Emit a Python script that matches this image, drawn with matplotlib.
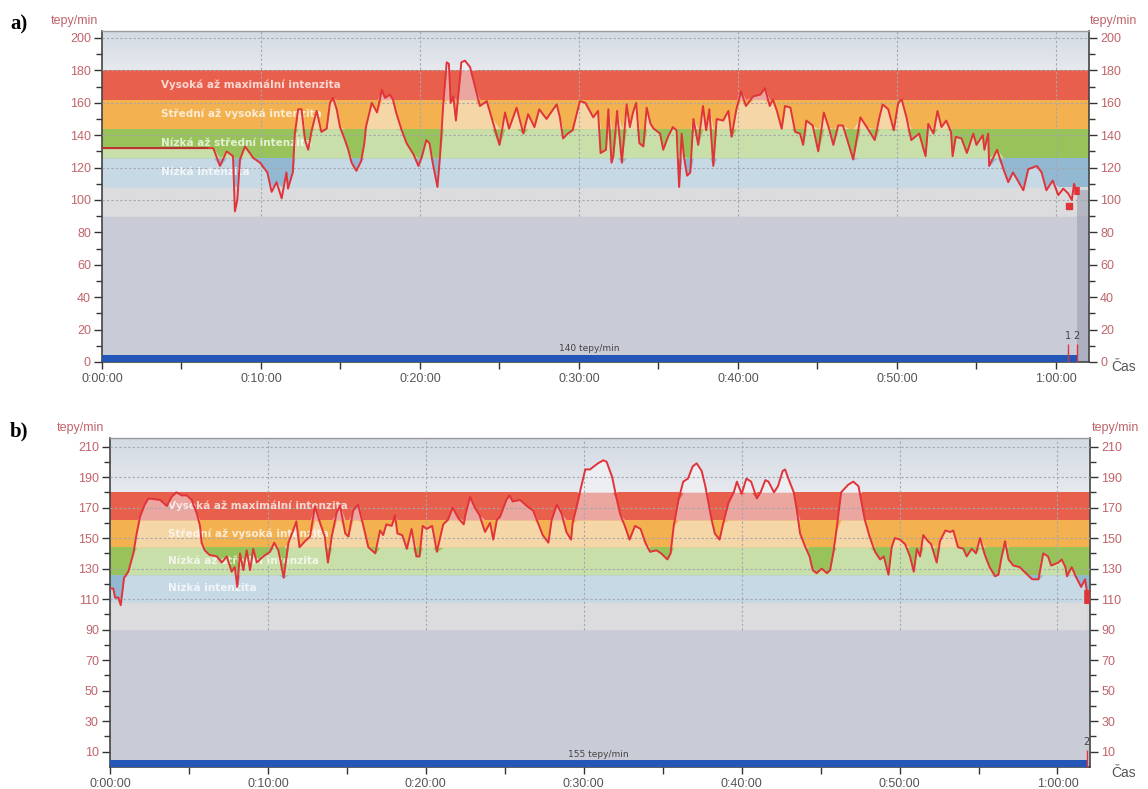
import numpy as np
import matplotlib.pyplot as plt
from matplotlib.ticker import MultipleLocator, FuncFormatter
from matplotlib.colors import LinearSegmentedColormap

W, H = 1148, 789

# Heart rate zones (bpm) and labels
zone_edges = [0, 90, 108, 126, 144, 162, 180]
zone_sat = ['#c9ccd6', '#d7d7d9', '#93b8d2', '#98c35a', '#f3b14f', '#e8604c']
zone_pale = ['#c9ccd6', '#dcdcde', '#c7d9e5', '#c9dfaa', '#f5d6a7', '#eca6a0']
zone_names = ['Nízká intenzita', 'Nízká až střední intenzita',
              'Střední až vysoká intenzita', 'Vysoká až maximální intenzita']

# Panel a) - flat pre-recording part and heart rate record (minutes, bpm)
a_flat_t = [0.0, 6.6]
a_flat_hr = [132, 132]
a_t = [6.6, 7.0, 7.42, 7.84, 8.24, 8.36, 8.51, 8.68, 8.99, 9.3, 9.5, 9.94, 10.4, 10.67,
       10.98, 11.3, 11.6, 11.7, 12.0, 12.13, 12.34, 12.55, 12.77, 12.97, 13.19, 13.5, 13.8,
       14.13, 14.34, 14.53, 14.76, 14.97, 15.28, 15.49, 15.7, 16.0, 16.3, 16.5, 16.6, 16.97,
       17.3, 17.6, 17.8, 18.1, 18.3, 18.5, 18.85, 19.16, 19.6, 19.9, 20.1, 20.4, 20.6, 20.8,
       21.1, 21.26, 21.47, 21.68, 21.82, 21.93, 22.1, 22.26, 22.4, 22.6, 22.83, 23.15, 23.46,
       23.77, 24.2, 24.5, 25.0, 25.35, 25.6, 26.08, 26.5, 26.8, 27.2, 27.5, 27.96, 28.38,
       28.6, 28.8, 29.0, 29.3, 29.6, 30.06, 30.4, 30.9, 31.2, 31.36, 31.7, 31.85, 32.05,
       32.16, 32.4, 32.7, 33.0, 33.2, 33.4, 33.6, 33.8, 34.05, 34.26, 34.5, 34.7, 35.1,
       35.3, 35.6, 35.9, 36.14, 36.3, 36.46, 36.6, 36.8, 37.0, 37.2, 37.5, 37.8, 38.0,
       38.2, 38.45, 38.66, 39.07, 39.4, 39.6, 39.9, 40.2, 40.5, 40.96, 41.4, 41.7, 42.0,
       42.2, 42.45, 42.75, 42.96, 43.3, 43.6, 43.9, 44.1, 44.3, 44.7, 45.05, 45.4, 45.7,
       46.0, 46.3, 46.6, 47.0, 47.25, 47.7, 48.1, 48.6, 48.9, 49.1, 49.45, 49.8, 50.08,
       50.3, 50.6, 50.9, 51.4, 51.8, 51.97, 52.3, 52.55, 52.8, 53.1, 53.4, 53.5, 53.7,
       54.06, 54.4, 54.8, 55.0, 55.4, 55.5, 55.74, 55.8, 56.3, 56.7, 57.0, 57.3, 57.6,
       57.95, 58.26, 58.8, 59.1, 59.4, 59.8, 60.15, 60.46, 60.77, 61.0, 61.14, 61.3]
a_hr = [135, 132, 121, 130, 127, 93, 100, 125, 133, 129, 126, 123, 117, 105,
        111, 101, 117, 107, 117, 141, 156, 156, 137, 131, 143, 155, 142,
        144, 160, 163, 156, 145, 137, 131, 123, 118, 124, 135, 145, 160,
        154, 168, 163, 165, 162, 154, 143, 135, 128, 121, 126, 137, 135, 123,
        108, 127, 160, 185, 184, 160, 164, 149, 164, 185, 186, 182, 170,
        158, 161, 151, 134, 154, 144, 157, 141, 153, 145, 156, 150, 156,
        159, 151, 138, 141, 143, 161, 160, 151, 155, 129, 131, 156, 123,
        127, 155, 123, 159, 145, 154, 160, 135, 133, 157, 147, 144, 141,
        131, 139, 145, 143, 108, 141, 127, 115, 117, 150, 134, 158, 143,
        156, 121, 150, 149, 155, 139, 156, 167, 158, 164, 165, 169, 158,
        162, 155, 144, 158, 157, 142, 141, 134, 149, 146, 130, 154, 145,
        134, 146, 146, 133, 125, 151, 145, 137, 151, 159, 156, 143, 160,
        162, 151, 137, 141, 127, 147, 141, 155, 145, 149, 142, 127, 139,
        138, 129, 141, 134, 140, 131, 141, 121, 131, 119, 111, 117, 112,
        106, 119, 121, 117, 106, 112, 103, 107, 104, 100, 110, 105]
a_avg = 140
a_end = 61.3
a_laps = [60.75, 61.3]
a_lap_names = ['1', '2']

# Panel b)
b_t = [0.04, 0.21, 0.32, 0.53, 0.68, 0.8, 0.89, 1.16, 1.48, 1.69, 1.9, 2.2, 2.43, 3.17,
       3.6, 3.9, 4.2, 4.54, 4.86, 5.17, 5.5, 5.7, 5.8, 6.0, 6.3, 6.76, 7.07, 7.4, 7.7,
       7.9, 8.06, 8.23, 8.44, 8.66, 8.87, 9.07, 9.3, 9.7, 10.13, 10.4, 10.66, 11.0, 11.3,
       11.6, 11.8, 12.0, 12.35, 12.67, 12.98, 13.3, 13.6, 13.8, 14.04, 14.36, 14.57, 14.9,
       15.1, 15.4, 15.7, 16.0, 16.36, 16.8, 17.1, 17.3, 17.5, 17.84, 18.05, 18.2, 18.5,
       18.8, 19.1, 19.4, 19.6, 19.8, 20.05, 20.4, 20.7, 21.1, 21.4, 21.7, 22.06, 22.4,
       22.5, 22.8, 23.1, 23.4, 23.75, 24.07, 24.27, 24.5, 24.7, 25.1, 25.3, 25.5, 25.97,
       26.4, 26.8, 27.1, 27.4, 27.76, 27.97, 28.3, 28.6, 28.9, 29.2, 29.3, 29.56, 29.8,
       30.1, 30.4, 30.9, 31.24, 31.45, 31.8, 32.1, 32.3, 32.6, 32.9, 33.25, 33.6, 33.9,
       34.2, 34.6, 34.9, 35.3, 35.5, 35.7, 36.0, 36.3, 36.6, 36.9, 37.15, 37.47, 37.7,
       37.9, 38.1, 38.3, 38.6, 38.84, 39.16, 39.5, 39.7, 40.0, 40.3, 40.6, 40.96, 41.2,
       41.5, 41.7, 42.05, 42.3, 42.6, 42.75, 42.96, 43.3, 43.5, 43.7, 44.0, 44.3, 44.5,
       44.75, 45.07, 45.4, 45.6, 45.8, 46.0, 46.3, 46.75, 47.07, 47.4, 47.6, 47.8, 48.1,
       48.45, 48.77, 49.0, 49.3, 49.5, 49.7, 50.03, 50.35, 50.66, 50.9, 51.1, 51.3, 51.5,
       51.8, 52.0, 52.35, 52.56, 52.9, 53.2, 53.4, 53.7, 54.04, 54.25, 54.57, 54.84, 55.1,
       55.4, 55.7, 56.05, 56.26, 56.47, 56.68, 56.9, 57.2, 57.6, 58.1, 58.4, 58.8, 59.1,
       59.4, 59.6, 60.06, 60.27, 60.5, 60.6, 60.9, 61.2, 61.5, 61.75, 61.85]
b_hr = [117, 117, 111, 111, 106, 116, 124, 128, 140, 153, 164, 172, 176, 175,
        171, 177, 180, 178, 178, 175, 166, 158, 147, 142, 139, 138, 134, 138, 128,
        131, 118, 140, 129, 142, 129, 143, 134, 138, 141, 147, 142, 124, 147,
        155, 161, 144, 148, 151, 171, 160, 151, 134, 151, 167, 171, 153,
        151, 168, 172, 160, 144, 140, 155, 152, 159, 158, 165, 153, 152,
        143, 156, 138, 138, 158, 156, 158, 141, 159, 162, 170, 163, 159,
        165, 177, 170, 165, 154, 160, 149, 162, 164, 175, 178, 174, 175,
        171, 168, 160, 152, 147, 162, 172, 166, 154, 149, 160, 171, 182,
        195, 195, 199, 201, 200, 190, 175, 166, 158, 149, 158, 156, 147,
        141, 142, 140, 136, 140, 158, 175, 187, 189, 197, 199, 194, 184,
        173, 162, 153, 149, 160, 173, 180, 187, 179, 189, 187, 176, 180,
        188, 187, 180, 184, 194, 195, 189, 180, 168, 153, 145, 138, 129,
        127, 130, 127, 129, 140, 155, 180, 185, 187, 184, 173, 162, 151,
        141, 136, 138, 126, 144, 150, 149, 146, 138, 128, 143, 138, 152,
        148, 146, 134, 148, 155, 154, 155, 144, 143, 138, 143, 140, 150,
        139, 131, 125, 126, 138, 148, 136, 132, 131, 126, 123, 123, 140,
        138, 132, 134, 136, 131, 125, 131, 124, 118, 123, 116]
b_avg = 155
b_end = 61.9
b_laps = [61.85]
b_lap_names = ['2']

TICK_RED = '#c0646a'
GREY = '#555555'
sky = LinearSegmentedColormap.from_list('sky', ['#e6e9ee', '#d3dae3'])


def fmt_time(m, pos):
    return f"{int(m // 60)}:{int(m % 60):02d}:00"


def draw_panel(ax, t, hr, top, xmax, major, minor, gridvals, avg, end, laps, lap_names):
    t = np.asarray(t, float)
    hr = np.asarray(hr, float)
    ax.set_xlim(0, xmax)
    ax.set_ylim(0, top)

    # zone background (saturated) and pale fill under the curve
    for i in range(len(zone_sat)):
        lo, hi = zone_edges[i], zone_edges[i + 1]
        ax.axhspan(lo, hi, color=zone_sat[i], lw=0, zorder=0)
        ax.fill_between(t, lo, np.clip(hr, lo, hi), color=zone_pale[i], lw=0, zorder=1)
    grad = np.linspace(0, 1, 64).reshape(-1, 1)
    ax.imshow(grad, extent=[0, xmax, 180, top], origin='lower', aspect='auto', cmap=sky, zorder=0)
    ax.fill_between(t, 180, np.clip(hr, 180, top), color='#eceef2', lw=0, zorder=1)

    # zone labels
    for i, name in enumerate(zone_names):
        lo, hi = zone_edges[i + 2], zone_edges[i + 3]
        ax.text(3.7, (lo + hi) / 2, name, color='white', alpha=0.75, fontsize=7.5,
                fontweight='bold', va='center', ha='left', zorder=4)

    # dashed grid
    for v in gridvals:
        ax.axhline(v, ls=(0, (2, 2)), color='#a4a7ad', lw=0.8, zorder=3)
    ax.vlines(np.arange(10, 61, 10), 90, top, linestyles=(0, (2, 2)), colors='#a4a7ad', lw=0.8, zorder=3)

    ax.plot(t, hr, color='#e0333a', lw=1.4, zorder=5)

    # average heart rate bar
    ax.barh(avg * 0 + 2.2, end, height=4.4, left=0, color='#2456b8', zorder=6)
    ax.text(end / 2, 8.5, f'{avg} tepy/min', fontsize=6.5, color='#444444',
            ha='center', va='center', zorder=6)

    # lap markers
    for lx, ln in zip(laps, lap_names):
        ax.vlines(lx, 0, 11, color='#e0333a', lw=1, zorder=7)
        ax.text(lx, 13, ln, fontsize=7, color='#444444', ha='center', va='bottom', zorder=7)

    ax.yaxis.set_major_locator(MultipleLocator(20))
    ax.yaxis.set_major_locator(plt.FixedLocator(major))
    ax.yaxis.set_minor_locator(plt.FixedLocator(minor))
    ax.xaxis.set_major_locator(MultipleLocator(10))
    ax.xaxis.set_minor_locator(MultipleLocator(5))
    ax.xaxis.set_major_formatter(FuncFormatter(fmt_time))

    ax.tick_params(axis='y', which='major', length=6, width=1, color='#333333',
                   labelcolor=TICK_RED, labelsize=9, left=True, right=True,
                   labelleft=True, labelright=True, pad=2)
    ax.tick_params(axis='y', which='minor', length=4, width=1, color='#333333',
                   left=True, right=True)
    ax.tick_params(axis='x', which='both', length=5, width=1, color='#333333',
                   labelcolor=GREY, labelsize=9, pad=3)
    for s in ['left', 'right', 'bottom']:
        ax.spines[s].set_color('#444444')
        ax.spines[s].set_linewidth(1.2)
    ax.spines['top'].set_color('#9a9a9a')
    ax.spines['top'].set_linewidth(1)
    for lab in ax.get_xticklabels() + ax.get_yticklabels():
        lab.set_fontfamily('Liberation Sans')


def fig_text(x, y, s, **kw):
    fig.text(x / W, 1 - y / H, s, **kw)


fig = plt.figure(figsize=(W / 100, H / 100), dpi=100)
fig.patch.set_facecolor('white')

ax_a = fig.add_axes([102 / W, 1 - 362 / H, (1089 - 102) / W, (362 - 31) / H])
ax_b = fig.add_axes([110 / W, 1 - 767 / H, (1090 - 110) / W, (767 - 438) / H])

# panel a: flat segment is drawn separately in a darker red
ta = a_flat_t + a_t[1:]
ha = a_flat_hr + a_hr[1:]
draw_panel(ax_a, ta, ha, 204.3, 62.08, np.arange(0, 201, 20), np.arange(10, 200, 20),
           np.arange(100, 201, 20), a_avg, a_end, a_laps, a_lap_names)
ax_a.plot(a_flat_t, a_flat_hr, color='#b83030', lw=1.3, zorder=6)
ax_a.plot([60.8], [96], marker='s', ms=4, color='#e0333a', zorder=7)
ax_a.vlines(61.3, 103, 108, color='#e0333a', lw=4, zorder=7)
# end of recording strip
ax_a.axvspan(a_end, 62.08, ymin=0, ymax=106 / 204.3, color='#8a8fa6', alpha=0.45, lw=0, zorder=2)

draw_panel(ax_b, b_t, b_hr, 215.6, 62.06, np.arange(10, 211, 20), np.arange(20, 201, 20),
           np.arange(110, 211, 20), b_avg, b_end, b_laps, b_lap_names)
ax_b.vlines(61.9, 107, 116, color='#e0333a', lw=4, zorder=7)

# axis captions
lab_kw = dict(color=TICK_RED, fontsize=9, family='Liberation Sans', va='center')
fig_text(98, 21, 'tepy/min', ha='right', **lab_kw)
fig_text(1090, 21, 'tepy/min', ha='left', **lab_kw)
fig_text(104, 428, 'tepy/min', ha='right', **lab_kw)
fig_text(1092, 428, 'tepy/min', ha='left', **lab_kw)
fig_text(1111, 367, 'Čas', ha='left', va='center', color=GREY, fontsize=10, family='Liberation Sans')
fig_text(1111, 773, 'Čas', ha='left', va='center', color=GREY, fontsize=10, family='Liberation Sans')
fig_text(10, 24, 'a)', ha='left', va='center', fontsize=15, fontweight='bold', family='Liberation Serif')
fig_text(10, 431, 'b)', ha='left', va='center', fontsize=15, fontweight='bold', family='Liberation Serif')

fig.savefig('out.png', dpi=100)
